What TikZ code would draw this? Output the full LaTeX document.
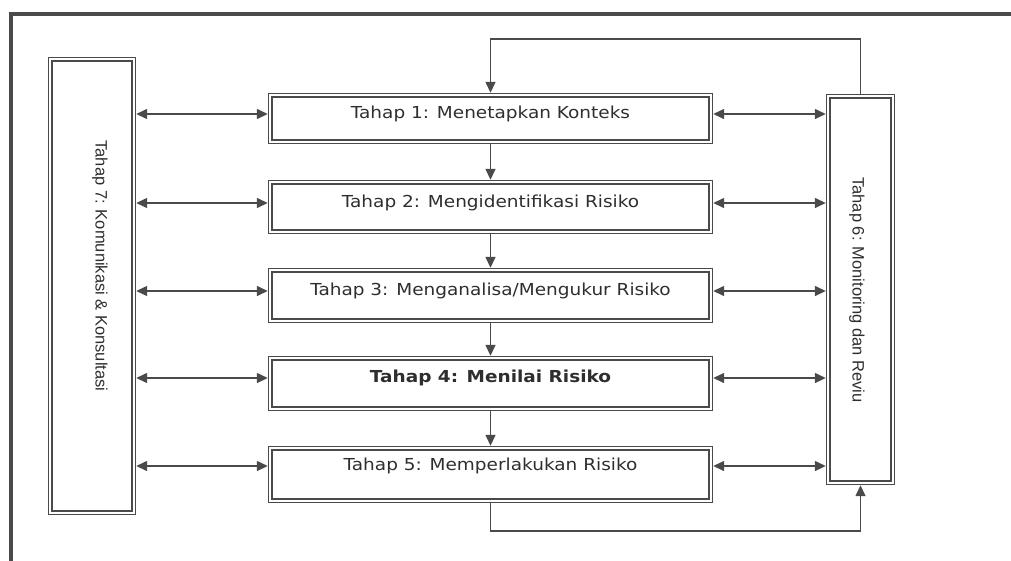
\documentclass[tikz,border=0pt]{standalone}
\usepackage{fontspec}
\usetikzlibrary{arrows.meta}
\newfontfamily\boxfont[FakeStretch=1.12]{DejaVu Sans}
\newfontfamily\sidefont{Liberation Sans}
\definecolor{ln}{HTML}{4A4A4A}
\definecolor{tx}{HTML}{2E2E2E}
\tikzset{
  stagebox/.style={draw=ln, line width=1.5pt, double=white, double distance=1.8pt,
    outer sep=2.4pt, inner sep=0pt, anchor=center},
  stagetext/.style={text=tx, font=\boxfont\fontsize{16.5}{19}\selectfont, inner sep=0pt},
  sidetext/.style={text=tx, font=\sidefont\fontsize{16.5}{19}\selectfont, inner sep=0pt, rotate=-90},
  conn/.style={draw=ln, line width=1.4pt},
  tip/.style={-{Triangle[length=11pt,width=10pt]}},
  dtip/.style={{Triangle[length=11pt,width=10pt]}-{Triangle[length=11pt,width=10pt]}}
}
\begin{document}
\begin{tikzpicture}[x=1pt,y=-1pt]
\useasboundingbox (0,0) rectangle (1011,560);
\begin{scope}
\clip (0,0) rectangle (1011,560);
\draw[ln, line width=4pt] (11,14) rectangle (1030,580);
\end{scope}
% side boxes
\node[stagebox, minimum width=83.6pt, minimum height=453.6pt] (l7) at (92,286) {};
\node[stagebox, minimum width=64.6pt, minimum height=386.6pt] (r6) at (860.5,289.5) {};
\node[sidetext] (t7) at (100,266) {Tahap 7: Komunikasi \& Konsultasi};
\node[sidetext] (t6) at (857,290) {Tahap 6: Monitoring dan Reviu};
% stage boxes
\node[stagebox, minimum width=440.6pt, minimum height=46.6pt] (b1) at (490.5,118.5) {};
\node[stagebox, minimum width=440.6pt, minimum height=49.6pt] (b2) at (490.5,207) {};
\node[stagebox, minimum width=440.6pt, minimum height=50.6pt] (b3) at (490.5,295.5) {};
\node[stagebox, minimum width=440.6pt, minimum height=50.6pt] (b4) at (490.5,383.5) {};
\node[stagebox, minimum width=440.6pt, minimum height=52.6pt] (b5) at (490.5,474.5) {};
\node[stagetext] (t1) at (490.5,114) {Tahap 1: Menetapkan Konteks};
\node[stagetext] (t2) at (490.5,203) {Tahap 2: Mengidentifikasi Risiko};
\node[stagetext] (t3) at (490.5,291) {Tahap 3: Menganalisa/Mengukur Risiko};
\node[stagetext, font=\boxfont\bfseries\fontsize{16.5}{19}\selectfont] (t4) at (490.5,378) {Tahap 4: Menilai Risiko};
\node[stagetext] (t5) at (490.5,466) {Tahap 5: Memperlakukan Risiko};
% vertical flow
\draw[conn, tip] (b1.south) -- (b2.north);
\draw[conn, tip] (b2.south) -- (b3.north);
\draw[conn, tip] (b3.south) -- (b4.north);
\draw[conn, tip] (b4.south) -- (b5.north);
% horizontal links
\draw[conn, dtip] (l7.east |- t1) -- (b1.west |- t1);
\draw[conn, dtip] (l7.east |- t2) -- (b2.west |- t2);
\draw[conn, dtip] (l7.east |- t3) -- (b3.west |- t3);
\draw[conn, dtip] (l7.east |- t4) -- (b4.west |- t4);
\draw[conn, dtip] (l7.east |- t5) -- (b5.west |- t5);
\draw[conn, dtip] (b1.east |- t1) -- (r6.west |- t1);
\draw[conn, dtip] (b2.east |- t2) -- (r6.west |- t2);
\draw[conn, dtip] (b3.east |- t3) -- (r6.west |- t3);
\draw[conn, dtip] (b4.east |- t4) -- (r6.west |- t4);
\draw[conn, dtip] (b5.east |- t5) -- (r6.west |- t5);
% feedback loops
\coordinate (ct) at (675,39);
\coordinate (cb) at (675,531);
\draw[conn, tip] (r6.north) |- (ct) -| (b1.north);
\draw[conn, tip] (b5.south) |- (cb) -| (r6.south);
\end{tikzpicture}
\end{document}
